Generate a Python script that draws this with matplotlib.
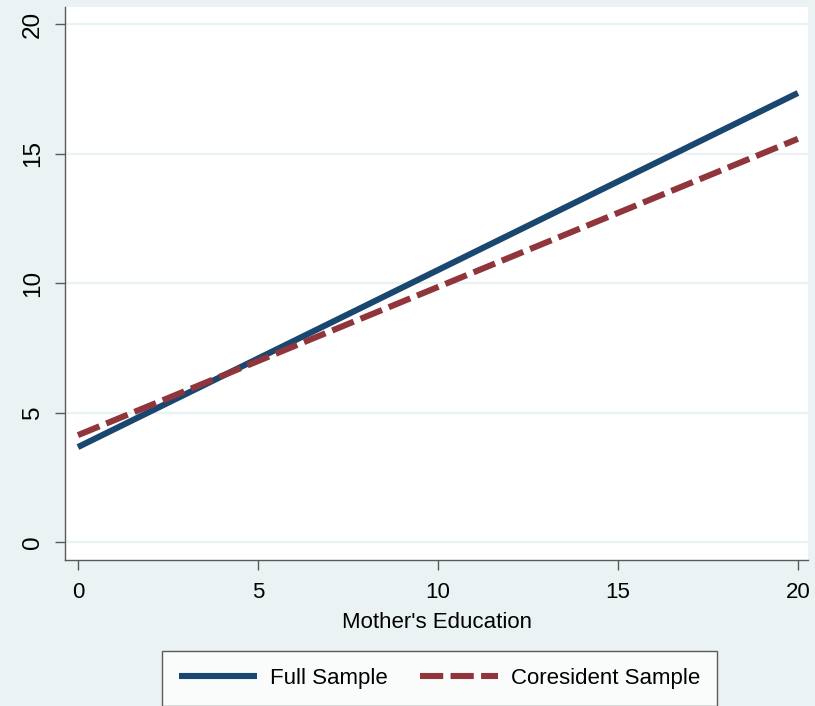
import matplotlib
matplotlib.use("Agg")
import matplotlib.pyplot as plt
from matplotlib.lines import Line2D

# Fitted lines evaluated at the ends of the education range
mother_educ = [0, 20]
full_sample = [3.67, 17.34]
coresident_sample = [4.13, 15.57]

x_ticks = [0, 5, 10, 15, 20]
y_ticks = [0, 5, 10, 15, 20]

bg = "#EAF2F3"
navy = "#1A476F"
maroon = "#90353B"

plt.rcParams["font.family"] = ["Liberation Sans", "DejaVu Sans"]

fig = plt.figure(figsize=(8.15, 7.06), dpi=100, facecolor=bg)
ax = fig.add_axes([65 / 815, 1 - 560 / 706, 743 / 815, 553 / 706])
ax.set_facecolor("white")

ax.plot(mother_educ, full_sample, color=navy, lw=4.4, solid_capstyle="butt",
        label="Full Sample", zorder=3)
ax.plot(mother_educ, coresident_sample, color=maroon, lw=4.4,
        linestyle=(0, (3.8, 1.2)), dash_capstyle="butt",
        label="Coresident Sample", zorder=4)

ax.set_xlim(-0.36, 20.28)
ax.set_ylim(-0.69, 20.66)
ax.set_xticks(x_ticks)
ax.set_yticks(y_ticks)
ax.grid(axis="y", color=bg, lw=1.6)
ax.set_axisbelow(True)

for s in ["top", "right"]:
    ax.spines[s].set_visible(False)
for s in ["left", "bottom"]:
    ax.spines[s].set_color("#5A5A5A")
    ax.spines[s].set_linewidth(1.0)

ax.tick_params(axis="both", direction="out", length=7, width=1.0,
               color="#5A5A5A", labelcolor="black")
ax.tick_params(axis="x", labelsize=16, pad=9)
ax.tick_params(axis="y", labelsize=17.5, pad=8)
for lbl in ax.get_yticklabels():
    lbl.set_rotation(90)
    lbl.set_va("center")

ax.set_xlabel("Mother's Education", fontsize=16, labelpad=6)

handles = [
    Line2D([], [], color=navy, lw=4.4, solid_capstyle="butt"),
    Line2D([], [], color=maroon, lw=4.4, linestyle=(0, (3.8, 1.2)),
           dash_capstyle="butt"),
]
leg = fig.legend(handles, ["Full Sample", "Coresident Sample"],
                 loc="center", bbox_to_anchor=(439.5 / 815, 1 - 678.5 / 706),
                 ncol=2, fontsize=16, frameon=True, fancybox=False,
                 handlelength=3.5, handletextpad=0.6, columnspacing=1.45,
                 borderpad=0.75, edgecolor="#333333", facecolor="white")
leg.get_frame().set_linewidth(1.0)

fig.savefig("out.png", dpi=100, facecolor=bg)
